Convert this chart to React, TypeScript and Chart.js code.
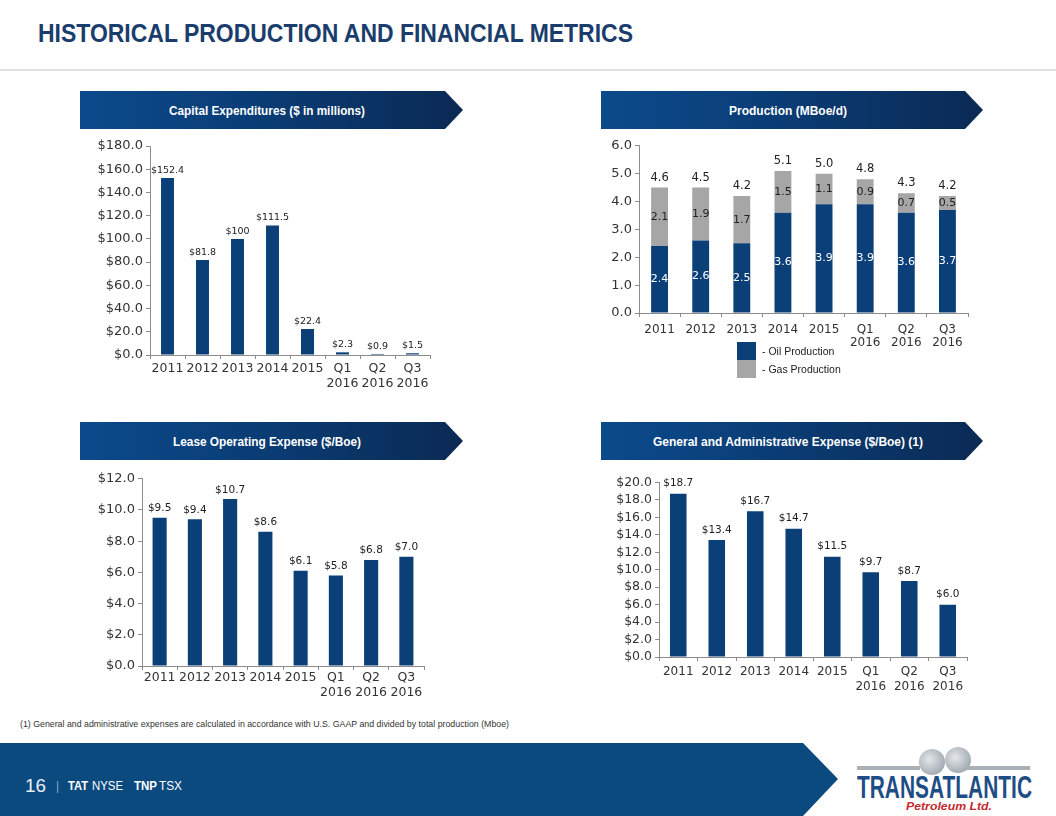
import React, { useEffect, useRef } from "react";
import { Chart, registerables } from "chart.js";

Chart.register(...registerables);

// ---------- DATA ----------
const categories: (string | string[])[] = ["2011", "2012", "2013", "2014", "2015", ["Q1", "2016"], ["Q2", "2016"], ["Q3", "2016"]];
const capexValues = [152.4, 81.8, 100, 111.5, 22.4, 2.3, 0.9, 1.5];
const oilProduction = [2.4, 2.6, 2.5, 3.6, 3.9, 3.9, 3.6, 3.7];
const gasProduction = [2.1, 1.9, 1.7, 1.5, 1.1, 0.9, 0.7, 0.5];
const totalProduction = [4.6, 4.5, 4.2, 5.1, 5.0, 4.8, 4.3, 4.2];
const loeValues = [9.5, 9.4, 10.7, 8.6, 6.1, 5.8, 6.8, 7.0];
const gaValues = [18.7, 13.4, 16.7, 14.7, 11.5, 9.7, 8.7, 6.0];
const productionSeriesNames = ["- Oil Production", "- Gas Production"];

const NAVY = "#0b3f78";
const GREY = "#a6a6a6";
const AXIS = "#8c8c8c";
const TICK = "#333333";
const FONT = "DejaVu Sans";

type LabelItem = {
  dataset: number;
  texts: string[];
  font: string;
  color: string;
  mode: "above" | "center";
  offset?: number;
};

function labelPlugin(items: LabelItem[]) {
  return {
    id: "valueLabels",
    afterDatasetsDraw(chart: any) {
      const ctx = chart.ctx;
      items.forEach((item) => {
        const meta = chart.getDatasetMeta(item.dataset);
        meta.data.forEach((el: any, i: number) => {
          const text = item.texts[i];
          if (text == null) return;
          ctx.save();
          ctx.font = item.font;
          ctx.fillStyle = item.color;
          ctx.textAlign = "center";
          if (item.mode === "center") {
            ctx.textBaseline = "middle";
            ctx.fillText(text, el.x, (el.y + el.base) / 2);
          } else {
            ctx.textBaseline = "bottom";
            ctx.fillText(text, el.x, el.y - (item.offset ?? 3));
          }
          ctx.restore();
        });
      });
    },
  };
}

function yScale(max: number, step: number, fmt: (v: number) => string, size: number, width: number, stacked = false) {
  return {
    stacked,
    min: 0,
    max,
    ticks: {
      stepSize: step,
      autoSkip: false,
      callback: (v: any) => fmt(Number(v)),
      color: TICK,
      font: { family: FONT, size },
      padding: 3,
    },
    grid: { drawOnChartArea: false, drawTicks: true, tickLength: 4, color: AXIS },
    border: { display: true, color: AXIS },
    afterFit: (s: any) => {
      s.width = width;
    },
  };
}

function xScale(size: number, lineHeight: number, padding: number, height: number, stacked = false) {
  return {
    stacked,
    ticks: {
      color: TICK,
      font: { family: FONT, size, lineHeight },
      padding,
      maxRotation: 0,
      autoSkip: false,
    },
    grid: { offset: true, drawOnChartArea: false, drawTicks: true, tickLength: 4, color: AXIS },
    border: { display: true, color: AXIS },
    afterFit: (s: any) => {
      s.height = height;
    },
  };
}

type ChartBoxProps = {
  left: number;
  top: number;
  width: number;
  height: number;
  build: () => any;
};

function ChartBox({ left, top, width, height, build }: ChartBoxProps) {
  const ref = useRef<HTMLCanvasElement | null>(null);
  useEffect(() => {
    if (!ref.current) return;
    const chart = new Chart(ref.current, build());
    return () => chart.destroy();
  }, []);
  return (
    <canvas
      ref={ref}
      width={width}
      height={height}
      style={{ position: "absolute", left, top, width, height, display: "block" }}
    />
  );
}

const baseOptions = (padding: any, x: any, y: any) => ({
  responsive: false,
  animation: false,
  devicePixelRatio: 1,
  layout: { padding },
  plugins: { legend: { display: false }, tooltip: { enabled: false } },
  scales: { x, y },
});

const fmtDollar1 = (v: number) => "$" + v.toFixed(1);

function buildCapex() {
  return {
    type: "bar",
    data: {
      labels: categories,
      datasets: [
        { label: "Capital Expenditures", data: capexValues, backgroundColor: NAVY, categoryPercentage: 1, barPercentage: 0.37 },
      ],
    },
    options: baseOptions(
      { left: 0, right: 10, top: 11, bottom: 5 },
      xScale(12.5, 1.15, 3, 40),
      yScale(180, 20, fmtDollar1, 13, 70)
    ),
    plugins: [
      labelPlugin([
        { dataset: 0, texts: capexValues.map((v) => "$" + String(v)), font: `9.5px "${FONT}"`, color: "#222", mode: "above", offset: 3 },
      ]),
    ],
  };
}

function buildProduction() {
  return {
    type: "bar",
    data: {
      labels: categories,
      datasets: [
        { label: productionSeriesNames[0], data: oilProduction, backgroundColor: NAVY, categoryPercentage: 1, barPercentage: 0.41 },
        { label: productionSeriesNames[1], data: gasProduction, backgroundColor: GREY, categoryPercentage: 1, barPercentage: 0.41 },
      ],
    },
    options: baseOptions(
      { left: 0, right: 12, top: 10, bottom: 2 },
      xScale(12, 1.12, 6, 40, true),
      yScale(6, 1, (v) => v.toFixed(1), 13, 49, true)
    ),
    plugins: [
      labelPlugin([
        { dataset: 0, texts: oilProduction.map((v) => v.toFixed(1)), font: `11px "${FONT}"`, color: "#ffffff", mode: "center" },
        { dataset: 1, texts: gasProduction.map((v) => v.toFixed(1)), font: `11px "${FONT}"`, color: "#222", mode: "center" },
        { dataset: 1, texts: totalProduction.map((v) => v.toFixed(1)), font: `11.5px "${FONT}"`, color: "#222", mode: "above", offset: 4 },
      ]),
    ],
  };
}

function buildLoe() {
  return {
    type: "bar",
    data: {
      labels: categories,
      datasets: [
        { label: "Lease Operating Expense", data: loeValues, backgroundColor: NAVY, categoryPercentage: 1, barPercentage: 0.4 },
      ],
    },
    options: baseOptions(
      { left: 0, right: 10, top: 10, bottom: 2 },
      xScale(12.5, 1.15, 1, 40),
      yScale(12, 2, fmtDollar1, 13, 62)
    ),
    plugins: [
      labelPlugin([
        { dataset: 0, texts: loeValues.map(fmtDollar1), font: `10.5px "${FONT}"`, color: "#222", mode: "above", offset: 4 },
      ]),
    ],
  };
}

function buildGa() {
  return {
    type: "bar",
    data: {
      labels: categories,
      datasets: [
        { label: "General and Administrative Expense", data: gaValues, backgroundColor: NAVY, categoryPercentage: 1, barPercentage: 0.43 },
      ],
    },
    options: baseOptions(
      { left: 0, right: 13, top: 10, bottom: 0 },
      xScale(12, 1.25, 3, 45),
      yScale(20, 2, fmtDollar1, 12.5, 69)
    ),
    plugins: [
      labelPlugin([
        { dataset: 0, texts: gaValues.map(fmtDollar1), font: `10.5px "${FONT}"`, color: "#222", mode: "above", offset: 5 },
      ]),
    ],
  };
}

let gradCounter = 0;
function Banner({ left, top, width, text, textLength }: { left: number; top: number; width: number; text: string; textLength: number }) {
  const h = 38;
  const notch = 18;
  const id = "bg" + gradCounter++;
  return (
    <svg style={{ position: "absolute", left, top }} width={width} height={h}>
      <defs>
        <linearGradient id={id} x1="0" y1="0" x2="1" y2="0">
          <stop offset="0" stopColor="#0b4a8b" />
          <stop offset="0.45" stopColor="#0a3d76" />
          <stop offset="1" stopColor="#0b2a54" />
        </linearGradient>
      </defs>
      <polygon points={`0,0 ${width - notch},0 ${width},${h / 2} ${width - notch},${h} 0,${h}`} fill={`url(#${id})`} />
      <text
        x={187}
        y={24}
        textAnchor="middle"
        fontFamily='"Liberation Sans", Arial, sans-serif'
        fontWeight="bold"
        fontSize={13}
        fill="#ffffff"
        textLength={textLength}
        lengthAdjust="spacingAndGlyphs"
      >
        {text}
      </text>
    </svg>
  );
}

const NARROW = '"Liberation Sans", Arial, sans-serif';

export default function App() {
  return (
    <div
      style={{
        position: "absolute",
        left: 0,
        top: 0,
        width: 1056,
        height: 816,
        background: "#ffffff",
        overflow: "hidden",
        fontFamily: '"Liberation Sans", Arial, sans-serif',
      }}
    >
      <svg style={{ position: "absolute", left: 0, top: 0 }} width={1056} height={60}>
        <text
          x={38}
          y={42}
          fontFamily={NARROW}
          fontWeight="bold"
          fontSize={26}
          fill="#1a3d6d"
          textLength={595}
          lengthAdjust="spacingAndGlyphs"
        >
          HISTORICAL PRODUCTION AND FINANCIAL METRICS
        </text>
      </svg>
      <div style={{ position: "absolute", left: 0, top: 69, width: 1056, height: 2, background: "#e0e0e0" }} />

      <Banner left={80} top={91} width={383} text="Capital Expenditures ($ in millions)" textLength={196} />
      <Banner left={601} top={91} width={382} text="Production (MBoe/d)" textLength={118} />
      <Banner left={80} top={422} width={383} text="Lease Operating Expense ($/Boe)" textLength={188} />
      <Banner left={601} top={422} width={382} text="General and Administrative Expense ($/Boe) (1)" textLength={270} />

      <ChartBox left={80} top={135} width={360} height={265} build={buildCapex} />
      <ChartBox left={590} top={135} width={390} height={220} build={buildProduction} />
      <ChartBox left={80} top={468} width={354} height={240} build={buildLoe} />
      <ChartBox left={590} top={472} width={390} height={230} build={buildGa} />

      {/* production legend */}
      {productionSeriesNames.map((name, i) => (
        <div key={name} style={{ position: "absolute", left: 737, top: 342 + i * 18, height: 18, display: "flex", alignItems: "center" }}>
          <div style={{ width: 19, height: 18, background: i === 0 ? NAVY : GREY }} />
          <div style={{ marginLeft: 6, fontSize: 10.5, color: "#222", fontFamily: '"Liberation Sans", Arial, sans-serif' }}>{name}</div>
        </div>
      ))}

      <svg style={{ position: "absolute", left: 0, top: 712 }} width={600} height={20}>
        <text x={20} y={15} fontFamily='"Liberation Sans", Arial, sans-serif' fontSize={8.5} fill="#333" textLength={489} lengthAdjust="spacingAndGlyphs">
          (1) General and administrative expenses are calculated in accordance with U.S. GAAP and divided by total production (Mboe)
        </text>
      </svg>

      <svg style={{ position: "absolute", left: 0, top: 743 }} width={1056} height={73}>
        <polygon points="0,0 803,0 838,36 803,73 0,73" fill="#0b4a7f" />
        <text x={25} y={49} fontFamily={NARROW} fontSize={19} fill="#e8eef5" textLength={21} lengthAdjust="spacingAndGlyphs">
          16
        </text>
        <text x={56} y={47} fontFamily={NARROW} fontSize={12} fill="#8fa7c2">
          |
        </text>
        <text x={68} y={47} fontFamily={NARROW} fontSize={13} fontWeight="bold" fill="#ffffff" textLength={20} lengthAdjust="spacingAndGlyphs">
          TAT
        </text>
        <text x={92} y={47} fontFamily={NARROW} fontSize={13} fill="#ffffff" textLength={31} lengthAdjust="spacingAndGlyphs">
          NYSE
        </text>
        <text x={134} y={47} fontFamily={NARROW} fontSize={13} fontWeight="bold" fill="#ffffff" textLength={23} lengthAdjust="spacingAndGlyphs">
          TNP
        </text>
        <text x={159} y={47} fontFamily={NARROW} fontSize={13} fill="#ffffff" textLength={23} lengthAdjust="spacingAndGlyphs">
          TSX
        </text>
        {/* logo */}
        <defs>
          <radialGradient id="globe" cx="0.4" cy="0.4" r="0.7">
            <stop offset="0" stopColor="#e4e7ea" />
            <stop offset="1" stopColor="#9aa2aa" />
          </radialGradient>
        </defs>
        <rect x={857} y={23} width={63} height={4} fill="#a9b0b8" />
        <rect x={967} y={23} width={63} height={4} fill="#a9b0b8" />
        <circle cx={932} cy={19} r={13} fill="url(#globe)" />
        <circle cx={958} cy={17} r={13} fill="url(#globe)" />
        <text
          x={857}
          y={55}
          fontFamily={NARROW}
          fontWeight="bold"
          fontSize={32}
          fill="#1e4d86"
          textLength={175}
          lengthAdjust="spacingAndGlyphs"
        >
          TRANSATLANTIC
        </text>
        <text
          x={906}
          y={67}
          fontFamily='"Liberation Sans", sans-serif'
          fontWeight="bold"
          fontStyle="italic"
          fontSize={10.5}
          fill="#c62a2f"
          textLength={86}
          lengthAdjust="spacingAndGlyphs"
        >
          Petroleum Ltd.
        </text>
      </svg>
    </div>
  );
}
